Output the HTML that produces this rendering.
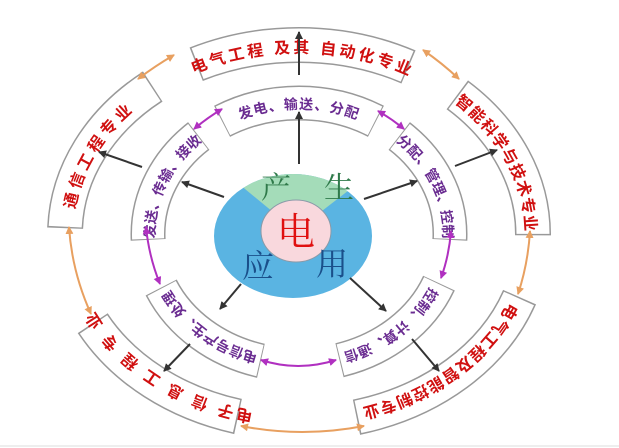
<!DOCTYPE html>
<html><head><meta charset="utf-8"><style>
html,body{margin:0;padding:0;background:#fff;width:619px;height:448px;overflow:hidden}
svg{display:block}
.o{font-family:"Liberation Sans","Noto Sans CJK SC",sans-serif;font-weight:bold;fill:#d01010;font-size:16px}
.m{font-family:"Liberation Sans","Noto Sans CJK SC",sans-serif;font-weight:bold;fill:#6a2c91;font-size:14px}
.c{font-family:"Liberation Serif","Noto Serif CJK SC",serif}
</style></head><body>
<svg width="619" height="448" viewBox="0 0 619 448" xmlns="http://www.w3.org/2000/svg">
<defs>
<marker id="ad" markerWidth="8" markerHeight="8" refX="7" refY="4" orient="auto" markerUnits="userSpaceOnUse"><path d="M0,0 L8,4 L0,8 z" fill="#333"/></marker>
<marker id="ao" markerWidth="8" markerHeight="8" refX="7" refY="4" orient="auto-start-reverse" markerUnits="userSpaceOnUse"><path d="M0,0 L8,4 L0,8 z" fill="#e8a060"/></marker>
<marker id="ap" markerWidth="8" markerHeight="8" refX="7" refY="4" orient="auto-start-reverse" markerUnits="userSpaceOnUse"><path d="M0,0 L8,4 L0,8 z" fill="#b030c0"/></marker>
<clipPath id="ce"><ellipse cx="293" cy="236" rx="79" ry="62"/></clipPath>
<path id="to" d="M299,415 A226,181 0 1 1 299,53 A226,181 0 1 1 299,415"/>
<path id="tm" d="M299,359 A144,125 0 1 1 299,109 A144,125 0 1 1 299,359"/>
</defs>
<line x1="0" y1="446" x2="619" y2="446" stroke="#eee" stroke-width="2"/>
<path d="M299,423 A234,189 0 1 1 299,45 A234,189 0 1 1 299,423" fill="none" stroke="#999" stroke-width="36" pathLength="3600" stroke-dasharray="0 166 478 272 468 132 588 152 448 172 568 156"/>
<path d="M299,423 A234,189 0 1 1 299,45 A234,189 0 1 1 299,423" fill="none" stroke="#fff" stroke-width="33" pathLength="3600" stroke-dasharray="0 170 470 280 460 140 580 160 440 180 560 160"/>
<path d="M299,365 A151,131 0 1 1 299,103 A151,131 0 1 1 299,365" fill="none" stroke="#999" stroke-width="35" pathLength="3600" stroke-dasharray="0 156 518 202 488 112 648 112 488 182 528 166"/>
<path d="M299,365 A151,131 0 1 1 299,103 A151,131 0 1 1 299,365" fill="none" stroke="#fff" stroke-width="32" pathLength="3600" stroke-dasharray="0 160 510 210 480 120 640 120 480 190 520 170"/>
<text class="o" text-anchor="middle" letter-spacing="3"><textPath href="#to" startOffset="11.25%">电子 信 息 工 程 专 业</textPath></text>
<text class="o" text-anchor="middle" letter-spacing="4"><textPath href="#to" startOffset="31.6%">通信工程专业</textPath></text>
<text class="o" text-anchor="middle" letter-spacing="3"><textPath href="#to" startOffset="50.3%">电气工程 及其 自动化专业</textPath></text>
<text class="o" text-anchor="middle" letter-spacing="1"><textPath href="#to" startOffset="68.9%">智能科学与技术专业</textPath></text>
<text class="o" text-anchor="middle" letter-spacing="1"><textPath href="#to" startOffset="87.8%">电气工程及智能控制专业</textPath></text>
<text class="m" text-anchor="middle"><textPath href="#tm" startOffset="11.5%">电信号产生、处理</textPath></text>
<text class="m" text-anchor="middle"><textPath href="#tm" startOffset="31.1%">发送、传输、接收</textPath></text>
<text class="m" text-anchor="middle" letter-spacing="1"><textPath href="#tm" startOffset="50%">发电、输送、分配</textPath></text>
<text class="m" text-anchor="middle"><textPath href="#tm" startOffset="68.9%">分配、管理、控制</textPath></text>
<text class="m" text-anchor="middle"><textPath href="#tm" startOffset="88.1%">控制、计算、通信</textPath></text>
<ellipse cx="293" cy="236" rx="79" ry="62" fill="#5ab4e2"/>
<polygon points="296,231 205,156 296,130 388,160" fill="#a4dcb9" clip-path="url(#ce)"/>
<ellipse cx="296" cy="231" rx="35" ry="31" fill="#f9d8dd" stroke="#8a9aa8" stroke-width="1"/>
<text class="c" x="296" y="245" font-size="38" fill="#e01010" text-anchor="middle">电</text>
<text class="c" x="276" y="198" font-size="30" fill="#2f7a4a" text-anchor="middle">产</text>
<text class="c" x="339" y="198" font-size="30" fill="#2f7a4a" text-anchor="middle">生</text>
<text class="c" x="258" y="277" font-size="32" fill="#1a4f8a" text-anchor="middle">应</text>
<text class="c" x="332" y="275" font-size="32" fill="#1a4f8a" text-anchor="middle">用</text>
<g stroke="#333" stroke-width="2" marker-end="url(#ad)">
<line x1="299" y1="164" x2="299" y2="112"/>
<line x1="299" y1="75" x2="299" y2="32"/>
<line x1="224" y1="197" x2="182" y2="182"/>
<line x1="142" y1="167" x2="99" y2="152"/>
<line x1="364" y1="199" x2="417" y2="181"/>
<line x1="455" y1="166" x2="497" y2="150"/>
<line x1="241" y1="284" x2="220" y2="309"/>
<line x1="190" y1="344" x2="164" y2="371"/>
<line x1="350" y1="278" x2="386" y2="311"/>
<line x1="412" y1="339" x2="439" y2="371"/>
</g>
<g stroke="#e8a060" stroke-width="2" fill="none" marker-start="url(#ao)" marker-end="url(#ao)">
<path d="M138,79 Q155,66 174,55"/>
<path d="M423,50 Q442,63 459,79"/>
<path d="M530,231 Q528,264 518,294"/>
<path d="M364,426 Q302,438 241,426"/>
<path d="M91,314 Q72,272 69,227"/>
</g>
<g stroke="#b030c0" stroke-width="2" fill="none" marker-start="url(#ap)" marker-end="url(#ap)">
<path d="M194,129 Q207,118 222,109"/>
<path d="M378,111 Q392,119 404,129"/>
<path d="M451,231 Q449,256 441,278"/>
<path d="M261,360 Q298,372 336,360"/>
<path d="M146,227 Q149,257 160,284"/>
</g>
</svg>
</body></html>
